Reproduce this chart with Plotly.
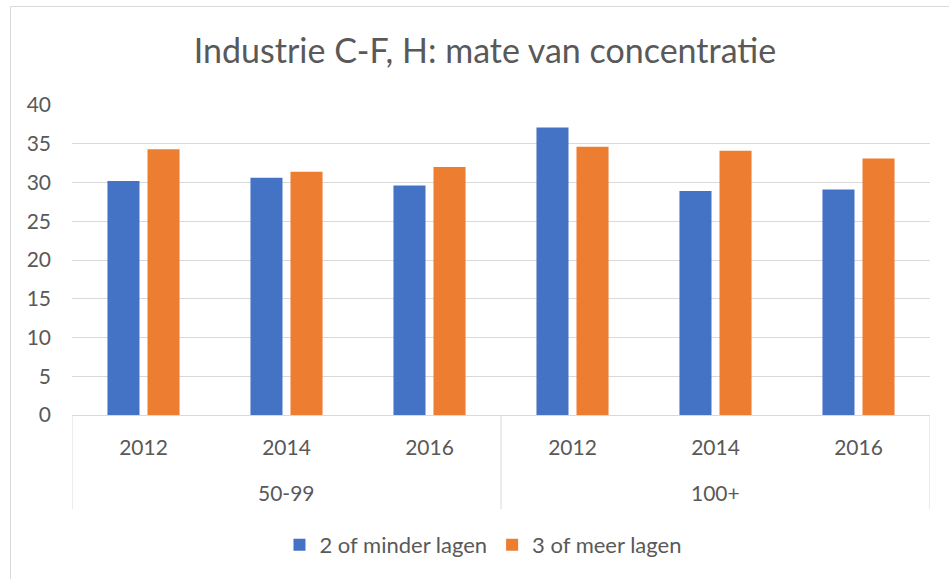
import plotly.graph_objects as go

groups = ["50-99", "100+"]
years = ["2012", "2014", "2016", "2012", "2014", "2016"]
series_names = ["2 of minder lagen", "3 of meer lagen"]
minder = [30.2, 30.6, 29.6, 37.1, 28.9, 29.1]
meer = [34.3, 31.4, 32.0, 34.6, 34.1, 33.1]
colors = ["#4472C4", "#ED7D31"]
y_ticks = [0, 5, 10, 15, 20, 25, 30, 35, 40]

FONT = "Lato"
TXT = "#595959"
GRID = "#D9D9D9"

xpos = list(range(len(years)))
per_group = len(years) // len(groups)

fig = go.Figure()
for name, vals, col in zip(series_names, [minder, meer], colors):
    fig.add_trace(go.Bar(x=xpos, y=vals, name=name, marker_color=col,
                         marker_line_width=0, hoverinfo="skip"))

W, H = 949, 579
L, R, T, B = 72, 930, 105, 415
pw, ph = R - L, B - T

fig.update_layout(
    width=W, height=H,
    margin=dict(l=L, r=W - R, t=T, b=H - B, autoexpand=False),
    paper_bgcolor="white", plot_bgcolor="white",
    font=dict(family=FONT, color=TXT, size=21),
    title=dict(text="Industrie C-F, H: mate van concentratie", x=485 / W, xanchor="center",
               y=1 - 51 / H, yanchor="middle", font=dict(size=34, color=TXT, family=FONT)),
    barmode="group", bargap=0.44, bargroupgap=0.2,
    showlegend=True,
    legend=dict(orientation="h", x=0.479, xanchor="center", y=(B - 545) / ph, yanchor="middle",
                font=dict(size=22, color=TXT, family=FONT), itemwidth=30, traceorder="normal"),
    yaxis=dict(range=[0, 40], tickvals=y_ticks, showgrid=True, gridcolor=GRID, gridwidth=1,
               zeroline=False, showline=False, ticks="", ticklabelstandoff=20,
               tickfont=dict(size=21, color=TXT, family=FONT), fixedrange=True),
    xaxis=dict(range=[-0.5, len(years) - 0.5], tickvals=xpos, ticktext=years,
               showgrid=False, zeroline=False, showline=True, linecolor=GRID, linewidth=1,
               ticks="", ticklabelstandoff=14,
               tickfont=dict(size=21, color=TXT, family=FONT), fixedrange=True),
)

# group labels and dividers of the two-level category axis
for gi, g in enumerate(groups):
    centre = gi * per_group + (per_group - 1) / 2
    fig.add_annotation(x=centre, xref="x", y=(B - 492) / ph, yref="paper", text=g,
                       showarrow=False, font=dict(size=21, color=TXT, family=FONT),
                       xanchor="center", yanchor="middle")
for k in range(len(groups) + 1):
    xb = k * per_group - 0.5
    fig.add_shape(type="line", xref="x", yref="paper", x0=xb, x1=xb,
                  y0=0, y1=(B - 509) / ph, line=dict(color=GRID, width=1))

fig.add_shape(type="rect", xref="paper", yref="paper",
              x0=(10.5 - L) / pw, x1=(965 - L) / pw,
              y0=(B - 600) / ph, y1=(B - 6.5) / ph,
              line=dict(color=GRID, width=1), fillcolor="rgba(0,0,0,0)", layer="below")

fig.write_html("out.html", config={"displayModeBar": False},
               post_script="document.body.style.margin='0';")
